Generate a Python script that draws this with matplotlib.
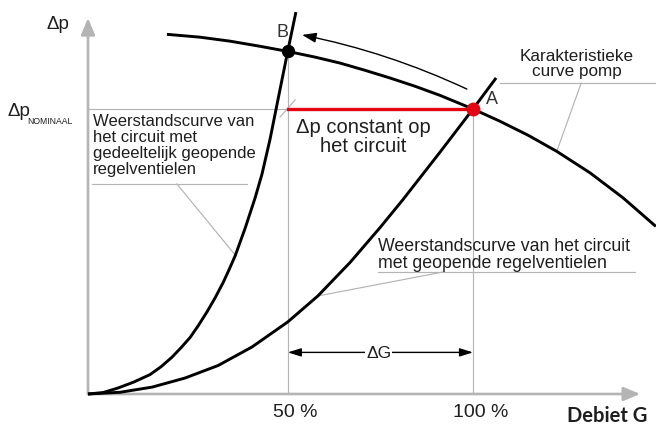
#!/usr/bin/env python3
"""Pompcurve met weerstandscurves: verschuiving van werkpunt A naar B."""

from __future__ import annotations

import matplotlib

matplotlib.use("Agg")
matplotlib.rcParams.update(
    {
        "font.family": ["Liberation Sans", "DejaVu Sans"],
        "text.color": "#1e1e1e",
    }
)
import matplotlib.pyplot as plt

# Values: flow G in % of nominal, head dp in % of nominal.
PUMP_G = [20.5, 29.1, 36.9, 44.7, 51.9, 59.0, 65.5, 71.9, 78.4, 84.9, 91.4,
          100.0, 107.0, 114.3, 121.8, 130.4, 139.0, 147.5]
PUMP_DP = [126.2, 125.2, 123.8, 122.0, 120.2, 118.2, 116.1, 113.6, 110.9, 108.0, 104.8,
           100.0, 95.7, 90.8, 85.1, 77.6, 68.8, 58.8]

PARTIAL_G = [0.0, 3.9, 7.8, 11.9, 16.1, 19.0, 21.8, 24.2, 26.5, 28.6, 30.9,
             33.0, 35.1, 36.6, 38.2, 40.8, 43.4, 45.2, 47.3, 49.6, 51.9, 54.0]
PARTIAL_DP = [0.0, 0.5, 2.1, 4.2, 6.8, 9.6, 12.9, 16.3, 19.8, 23.9, 28.8,
              33.7, 39.1, 43.5, 48.4, 58.1, 68.8, 77.2, 89.5, 105.0, 120.4, 134.0]

OPEN_G = [0.0, 8.3, 16.6, 25.2, 33.8, 42.6, 51.9, 59.7, 68.1, 75.8, 81.8, 91.4, 100.0, 106.0]
OPEN_DP = [0.0, 0.6, 2.4, 5.6, 10.0, 16.5, 25.3, 34.4, 46.2, 58.3, 68.2, 84.8, 100.0, 110.9]

POINT_A = (100.0, 100.0)
POINT_B = (51.9, 120.3)
DP_NOMINAL = 100.0
TICK_G = [51.9, 100.0]
TICK_LABELS = ["50 %", "100 %"]

GRAY = "#b4b4b4"
RED = "#e30613"

# px -> data: G = (px - 88) / 3.85, dp = (394 - py) / 2.85
XLIM = (-88 / 3.85, (656 - 88) / 3.85)
YLIM = ((394 - 430) / 2.85, 394 / 2.85)


def _arrow(ax, start, end, **kw):
    props = dict(shrinkA=0, shrinkB=0)
    props.update(kw)
    ax.annotate("", xy=end, xytext=start, arrowprops=props)


def main() -> int:
    fig = plt.figure(figsize=(6.56, 4.30), dpi=100)
    ax = fig.add_axes([0, 0, 1, 1])
    ax.set_xlim(*XLIM)
    ax.set_ylim(*YLIM)
    ax.axis("off")

    # axes with arrow heads
    head = "-|>,head_length=1.0,head_width=0.42"
    _arrow(ax, (0, 0), (143.4, 0), arrowstyle=head, color=GRAY, lw=1.9)
    _arrow(ax, (0, 0), (0, 131.9), arrowstyle=head, color=GRAY, lw=1.9)

    # thin gray helper lines
    thin = dict(color=GRAY, lw=0.85, zorder=1)
    ax.plot([0, POINT_A[0]], [DP_NOMINAL, DP_NOMINAL], **thin)
    ax.plot([TICK_G[0], TICK_G[0]], [0, POINT_B[1]], **thin)
    ax.plot([TICK_G[1], TICK_G[1]], [0, POINT_A[1]], **thin)
    ax.plot([49.9, 53.8], [97.2, 103.2], **thin)
    # leaders + underlines of the labels
    ax.plot([1.0, 41.3], [73.7, 73.7], **thin)
    ax.plot([23.1, 38.2], [73.7, 48.8], **thin)
    ax.plot([75.3, 142.1], [42.8, 42.8], **thin)
    ax.plot([92.2, 59.7], [42.8, 34.4], **thin)
    ax.plot([107.0, 148.0], [109.1, 109.1], **thin)
    ax.plot([128.1, 121.8], [109.1, 85.3], **thin)

    # curves
    curve = dict(color="black", lw=2.1, solid_capstyle="butt", solid_joinstyle="round", zorder=3)
    ax.plot(PUMP_G, PUMP_DP, **curve)
    ax.plot(PARTIAL_G, PARTIAL_DP, **curve)
    ax.plot(OPEN_G, OPEN_DP, **curve)

    # constant dp segment and working points
    ax.plot([POINT_B[0], POINT_A[0]], [DP_NOMINAL, DP_NOMINAL], color=RED, lw=2.4, zorder=4)
    ax.plot(*POINT_B, "o", color="black", ms=8.6, zorder=5)
    ax.plot(*POINT_A, "o", color=RED, ms=9.0, zorder=5)

    # arrow from A towards B along the pump curve
    _arrow(ax, (98.4, 107.0), (55.6, 126.0),
           arrowstyle="-|>,head_length=0.85,head_width=0.3",
           connectionstyle="arc3,rad=0.06", color="black", lw=1.0)

    # delta G arrow
    _arrow(ax, (TICK_G[0], 14.6), (TICK_G[1], 14.6),
           arrowstyle="<|-|>,head_length=0.8,head_width=0.25", color="black", lw=1.0)
    ax.text(75.5, 14.6, "ΔG", fontsize=12.5, ha="center", va="center_baseline",
            bbox=dict(facecolor="white", edgecolor="none", pad=0.6), zorder=6)

    # texts
    ax.text(-10.9, 128.0, "Δp", fontsize=13.5, ha="left", va="baseline")
    ax.text(-20.8, 97.4, "Δp", fontsize=13.5, ha="left", va="baseline")
    ax.text(-15.8, 94.7, "NOMINAAL", fontsize=6.2, ha="left", va="baseline")
    ax.text(50.5, 125.4, "B", fontsize=13, ha="center", va="baseline", color="#333333")
    ax.text(104.9, 101.8, "A", fontsize=13, ha="center", va="baseline", color="#333333")

    ax.text(1.3, 98.2,
            "Weerstandscurve van\nhet circuit met\ngedeeltelijk geopende\nregelventielen",
            fontsize=12, ha="left", va="top", linespacing=1.08)
    ax.text(71.4, 96.7, "Δp constant op\nhet circuit", fontsize=14.5,
            ha="center", va="top", multialignment="center", linespacing=0.97)
    ax.text(127.0, 120.9, "Karakteristieke\ncurve pomp", fontsize=12.3,
            ha="center", va="top", multialignment="center", linespacing=0.97)
    ax.text(75.3, 54.6,
            "Weerstandscurve van het circuit\nmet geopende regelventielen",
            fontsize=12.8, ha="left", va="top", linespacing=0.97)

    for g, label in zip(TICK_G, TICK_LABELS):
        ax.text(g + 2.0, -8.0, label, fontsize=14, ha="center", va="baseline")
    ax.text(124.4, -9.8, "Debiet G", fontsize=14.5, fontweight="bold",
            family=["Lato", "Liberation Sans"], ha="left", va="baseline")

    fig.savefig("out.png", dpi=100)
    plt.close(fig)
    return 0


if __name__ == "__main__":
    raise SystemExit(main())
